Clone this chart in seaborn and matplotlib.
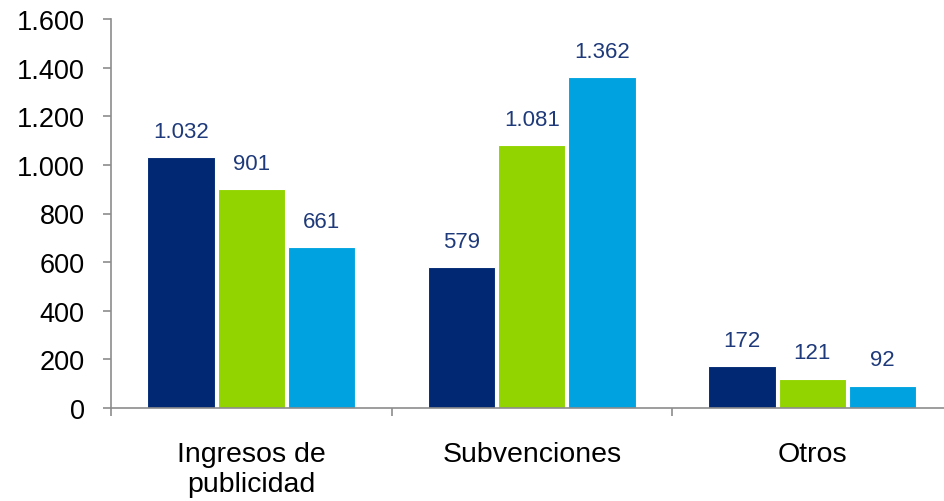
import matplotlib
matplotlib.use("Agg")
import matplotlib.pyplot as plt
import seaborn as sns
import pandas as pd
from matplotlib.ticker import FuncFormatter, FixedLocator

categories = ["Ingresos de\npublicidad", "Subvenciones", "Otros"]
series = ["Serie 1", "Serie 2", "Serie 3"]
values_s1 = [1032, 579, 172]
values_s2 = [901, 1081, 121]
values_s3 = [661, 1362, 92]
colors = ["#002873", "#92D400", "#00A3E0"]
label_color = "#1F3A7A"

rows = []
for s, vals in zip(series, [values_s1, values_s2, values_s3]):
    for c, v in zip(categories, vals):
        rows.append({"cat": c, "serie": s, "val": v})
df = pd.DataFrame(rows)

sns.set_style("white")
plt.rcParams["font.family"] = ["Liberation Sans", "DejaVu Sans"]

fig = plt.figure(figsize=(9.44, 5.02), dpi=100)
W, H = 944, 502
left, right, top, bottom = 111, 111 + 3 * 280.5, 20, 409
ax = fig.add_axes([left / W, 1 - bottom / H, (right - left) / W, (bottom - top) / H])

sns.barplot(data=df, x="cat", y="val", hue="serie", order=categories,
            hue_order=series, palette=colors, width=0.75, gap=0.04,
            edgecolor="white", linewidth=0.8, saturation=1, ax=ax, legend=False)

for cont in ax.containers:
    for bar in cont:
        h = bar.get_height()
        ax.annotate(f"{int(h):,}".replace(",", "."),
                    (bar.get_x() + bar.get_width() / 2, h),
                    xytext=(0, 11), textcoords="offset points",
                    ha="center", va="bottom", fontsize=16, color=label_color)

ax.set_ylim(0, 1600)
ax.set_xlim(-0.5, 2.5)
ax.set_yticks(range(0, 1601, 200))
ax.yaxis.set_major_formatter(FuncFormatter(lambda v, p: f"{int(v):,}".replace(",", ".")))
ax.set_xlabel("")
ax.set_ylabel("")

for sp in ["top", "right"]:
    ax.spines[sp].set_visible(False)
for sp in ["left", "bottom"]:
    ax.spines[sp].set_color("#8C8C8C")
    ax.spines[sp].set_linewidth(1.2)

ax.tick_params(axis="y", which="major", direction="out", length=6, width=1.2,
               color="#8C8C8C", labelsize=19.5, labelcolor="black", pad=13, left=True)
ax.tick_params(axis="x", which="major", length=0, labelsize=20.5, labelcolor="black", pad=24)
ax.xaxis.set_minor_locator(FixedLocator([-0.5, 0.5, 1.5, 2.5]))
ax.tick_params(axis="x", which="minor", direction="out", length=6, width=1.2,
               color="#8C8C8C", bottom=True)
for lab in ax.get_xticklabels():
    lab.set_linespacing(1.18)

fig.savefig("out.png", dpi=100)
